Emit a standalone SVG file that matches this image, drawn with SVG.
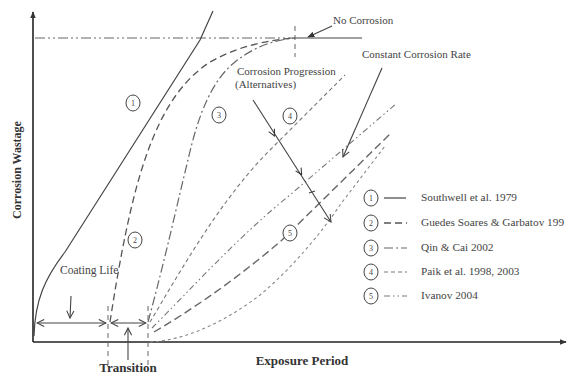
<svg xmlns="http://www.w3.org/2000/svg" width="567" height="375" viewBox="0 0 567 375">
<defs>
<style>
.ax{stroke:#222;stroke-width:1.6;fill:none}
.ln{stroke:#444;stroke-width:1.1;fill:none}
.c1{stroke:#444;stroke-width:1.2;fill:none}
.c2{stroke:#555;stroke-width:1.3;fill:none;stroke-dasharray:7 4}
.c3{stroke:#666;stroke-width:1.2;fill:none;stroke-dasharray:9 3 2 3}
.c4{stroke:#777;stroke-width:1.1;fill:none;stroke-dasharray:4 3}
.c5{stroke:#777;stroke-width:1.1;fill:none;stroke-dasharray:6 3 1.5 3 1.5 3}
.c6{stroke:#666;stroke-width:1.4;fill:none;stroke-dasharray:8 4}
.c7{stroke:#888;stroke-width:1.1;fill:none;stroke-dasharray:3 3}
.vd{stroke:#666;stroke-width:1;fill:none;stroke-dasharray:5 4}
.lbl{fill:#fff;stroke:#444;stroke-width:1}
.n{font-family:"Liberation Serif",serif;font-size:8px;fill:#444;text-anchor:middle}
.t{font-family:"Liberation Serif",serif;font-size:11px;fill:#444}
.lg{font-family:"Liberation Serif",serif;font-size:11.3px;fill:#444}
.b{font-family:"Liberation Serif",serif;font-size:13px;font-weight:bold;fill:#333}
</style>
<marker id="fa" viewBox="0 0 10 10" refX="9" refY="5" markerWidth="7" markerHeight="7" orient="auto-start-reverse" markerUnits="userSpaceOnUse"><path d="M0,1 L10,5 L0,9 Z" fill="#333"/></marker>
<marker id="oa" viewBox="0 0 10 10" refX="9" refY="5" markerWidth="9" markerHeight="9" orient="auto-start-reverse" markerUnits="userSpaceOnUse"><path d="M1,1 L9,5 L1,9" fill="none" stroke="#444" stroke-width="1.2"/></marker>
<marker id="ma" viewBox="0 0 10 10" refX="5" refY="5" markerWidth="8" markerHeight="8" orient="auto" markerUnits="userSpaceOnUse"><path d="M1,1 L9,5 L1,9" fill="none" stroke="#333" stroke-width="1.3"/></marker>
</defs>
<rect width="567" height="375" fill="#fff"/>

<g id="axes">
<path class="ax" d="M33,342 V12" marker-end="url(#fa)"/>
<path class="ax" d="M33,342 H566" marker-end="url(#fa)"/>
<text class="b" transform="translate(21,170) rotate(-90)" text-anchor="middle" style="font-size:12px">Corrosion Wastage</text>
<text class="b" x="302" y="365" text-anchor="middle">Exposure Period</text>
</g>

<g id="connectors">
<path class="c3" d="M35,38 H295" style="stroke-dasharray:10 3 2 3 2 3"/>
<path class="ln" d="M295,38 H362"/>
<path class="vd" d="M295,26 V57"/>
<path class="c1" d="M34,336 C35,300 45,278 65,252 L200,40 L213,11"/>
<path class="c2" d="M110,322 C118,270 128,215 140,175 C155,125 175,85 210,62 C240,45 270,40 295,38"/>
<path class="c3" d="M148,322 C165,260 178,200 188,160 C198,115 212,80 235,62 C255,46 275,40 295,38"/>
<path class="c4" d="M150,322 C180,272 220,200 270,150 L345,75"/>
<path class="c5" d="M152,328 C190,290 240,235 290,195 L397,103"/>
<path class="c6" d="M154,332 C200,305 245,272 282,240 L390,134"/>
<path class="c7" d="M150,342 C190,340 230,318 260,295 C290,270 320,235 340,205 L385,146"/>
<path class="vd" d="M108,306 V366"/>
<path class="vd" d="M148,306 V366"/>
<path class="ln" d="M37,323 H106" marker-start="url(#oa)" marker-end="url(#oa)"/>
<path class="ln" d="M111,323 H146" marker-start="url(#oa)" marker-end="url(#oa)"/>
<path class="ln" d="M71,296 L70,318" marker-end="url(#oa)"/>
<path class="ln" d="M128,360 V328" marker-end="url(#oa)"/>
<path class="ln" d="M332,26 L308,37" marker-end="url(#fa)"/>
<path class="ln" d="M382,68 L343,157" marker-end="url(#oa)"/>
<path class="ln" d="M253,100 L331,222" marker-end="url(#oa)"/>
<path d="M270,127 l3,6" stroke="none" marker-end="url(#ma)"/>
<path d="M297,167 l3,5" stroke="none" marker-end="url(#ma)"/>
<path class="ln" d="M309,193 l6,-2"/>
</g>

<g id="labels">
<text class="t" x="333" y="24">No Corrosion</text>
<text class="t" x="362" y="58">Constant Corrosion Rate</text>
<text class="t" x="237" y="75">Corrosion Progression</text>
<text class="t" x="235" y="88">(Alternatives)</text>
<text class="t" x="60" y="274" style="font-size:11.5px">Coating Life</text>
<text class="b" x="128" y="372" text-anchor="middle">Transition</text>
</g>

<g id="tag1"><ellipse class="lbl" cx="133" cy="103" rx="7" ry="8"/><text class="n" x="133" y="106">1</text></g>
<g id="tag2"><ellipse class="lbl" cx="135" cy="240" rx="7" ry="8"/><text class="n" x="135" y="243">2</text></g>
<g id="tag3"><ellipse class="lbl" cx="219" cy="115" rx="7" ry="8"/><text class="n" x="219" y="118">3</text></g>
<g id="tag4"><ellipse class="lbl" cx="290" cy="116" rx="7" ry="8"/><text class="n" x="290" y="119">4</text></g>
<g id="tag5"><ellipse class="lbl" cx="290" cy="233" rx="7" ry="8"/><text class="n" x="290" y="236">5</text></g>

<g id="legend">
<g id="leg1"><ellipse class="lbl" cx="371" cy="198" rx="7" ry="8"/><text class="n" x="371" y="201">1</text><path class="c1" d="M384,198 H406"/><text class="lg" x="421" y="201">Southwell et al. 1979</text></g>
<g id="leg2"><ellipse class="lbl" cx="371" cy="223" rx="7" ry="8"/><text class="n" x="371" y="226">2</text><path class="c2" d="M384,223 H407"/><text class="lg" x="421" y="226">Guedes Soares &amp; Garbatov 199</text></g>
<g id="leg3"><ellipse class="lbl" cx="371" cy="248" rx="7" ry="8"/><text class="n" x="371" y="251">3</text><path class="c3" d="M384,248 H407"/><text class="lg" x="421" y="251">Qin &amp; Cai 2002</text></g>
<g id="leg4"><ellipse class="lbl" cx="371" cy="272" rx="7" ry="8"/><text class="n" x="371" y="275">4</text><path class="c4" d="M384,272 H407"/><text class="lg" x="421" y="275">Paik et al. 1998, 2003</text></g>
<g id="leg5"><ellipse class="lbl" cx="371" cy="296" rx="7" ry="8"/><text class="n" x="371" y="299">5</text><path class="c5" d="M384,296 H407"/><text class="lg" x="421" y="299">Ivanov 2004</text></g>
</g>
</svg>
